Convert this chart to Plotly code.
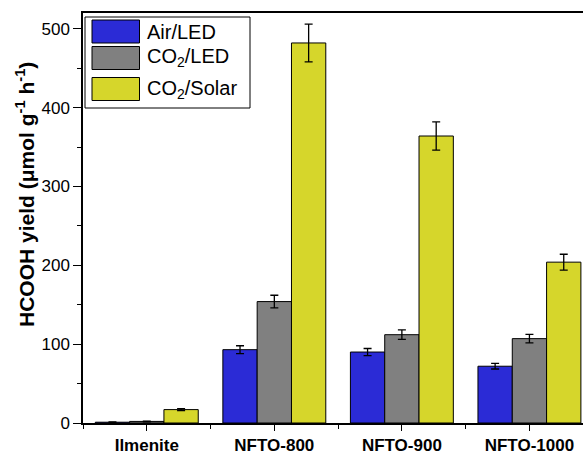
import plotly.graph_objects as go

categories = ["Ilmenite", "NFTO-800", "NFTO-900", "NFTO-1000"]
series_names = ["Air/LED", "CO<sub>2</sub>/LED", "CO<sub>2</sub>/Solar"]
air_led = [1.0, 93, 90, 72]
air_led_err = [0.3, 5, 4.5, 3.5]
co2_led = [2.0, 154, 112, 107]
co2_led_err = [0.5, 8, 6, 5.5]
co2_solar = [17, 482, 364, 204]
co2_solar_err = [1.2, 24, 18, 10]
colors = ["#2B2BD6", "#808080", "#D6D62B"]

W, H = 583, 452
ML, MR, MT, MB = 83, 0, 13, 29
PW, PH = W - ML - MR, H - MT - MB


def px(x):
    return (x - ML) / PW


def py(y):
    return (H - MB - y) / PH


xpos = list(range(len(categories)))
fig = go.Figure()
for name, vals, errs, col in zip(series_names,
                                 [air_led, co2_led, co2_solar],
                                 [air_led_err, co2_led_err, co2_solar_err],
                                 colors):
    fig.add_trace(go.Bar(
        x=xpos, y=vals, name=name,
        marker=dict(color=col, line=dict(color="black", width=1)),
        error_y=dict(type="data", array=errs, color="black", thickness=1.3, width=4),
    ))

font_family = "Liberation Sans, Arial, sans-serif"

# legend drawn as layout decoration (large swatches like the reference)
shapes = [dict(type="rect", xref="paper", yref="paper",
               x0=px(85), x1=px(250), y0=py(17), y1=py(108),
               line=dict(color="black", width=1), fillcolor="white", layer="above")]
annotations = []
rows = [(20, 43), (46.5, 69.5), (77.5, 100.5)]
text_centers = [32, 58, 89]
for (y0, y1), tc, name, col in zip(rows, text_centers, series_names, colors):
    shapes.append(dict(type="rect", xref="paper", yref="paper",
                       x0=px(92), x1=px(139.5), y0=py(y0), y1=py(y1),
                       line=dict(color="black", width=1), fillcolor=col, layer="above"))
    annotations.append(dict(xref="paper", yref="paper", x=px(145), y=py(tc),
                            xanchor="left", yanchor="middle", showarrow=False,
                            text=name, font=dict(size=20, color="black")))

annotations.append(dict(
    xref="paper", yref="paper", x=px(25), y=py(195),
    xanchor="center", yanchor="middle", showarrow=False, textangle=-90,
    text="<b>HCOOH yield (μmol g<sup>-1</sup> h<sup>-1</sup>)</b>",
    font=dict(size=21, color="black"),
))

fig.update_layout(
    width=W, height=H,
    margin=dict(l=ML, r=MR, t=MT, b=MB, pad=0),
    barmode="group", bargap=0.193, bargroupgap=0,
    plot_bgcolor="white", paper_bgcolor="white",
    font=dict(family=font_family, size=17, color="black"),
    showlegend=False,
    shapes=shapes,
    annotations=annotations,
    xaxis=dict(
        range=[-0.5, 3.42],
        tickvals=xpos, ticktext=["<b>%s</b>" % c for c in categories],
        tickfont=dict(size=17),
        showline=True, linecolor="black", linewidth=1.5, mirror=True,
        ticks="outside", ticklen=6, tickwidth=1.2, tickcolor="black",
        minor=dict(tick0=0.5, dtick=1, ticks="outside", ticklen=4, tickwidth=1.2, tickcolor="black"),
        showgrid=False, zeroline=False, automargin=False,
    ),
    yaxis=dict(
        range=[0, 520],
        tickvals=[0, 100, 200, 300, 400, 500],
        tickfont=dict(size=17),
        showline=True, linecolor="black", linewidth=1.5,
        ticks="outside", ticklen=8, tickwidth=1.2, tickcolor="black",
        ticklabelstandoff=0,
        minor=dict(tick0=0, dtick=50, ticks="outside", ticklen=4, tickwidth=1.2, tickcolor="black"),
        showgrid=False, zeroline=False, automargin=False,
    ),
)

fig.write_html("out.html", config={"displayModeBar": False},
               post_script="document.body.style.margin='0';document.body.style.padding='0';")
